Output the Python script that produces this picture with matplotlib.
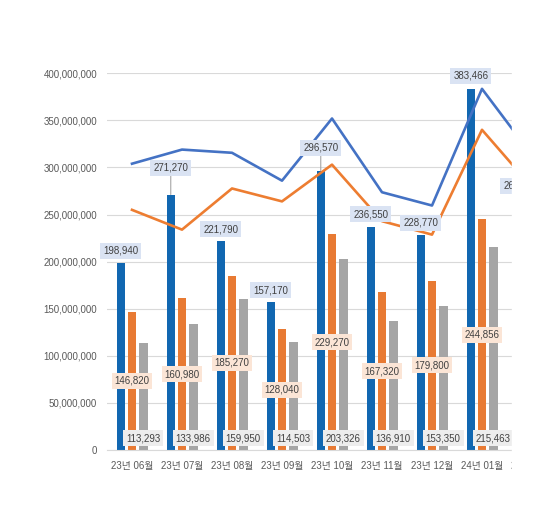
import numpy as np
import matplotlib
matplotlib.use("Agg")
from matplotlib import pyplot as plt
from matplotlib.patches import Rectangle

plt.rcParams['font.family'] = ['Liberation Sans', 'Noto Sans CJK KR']

months = ['23년 06월', '23년 07월', '23년 08월', '23년 09월', '23년 10월',
          '23년 11월', '23년 12월', '24년 01월', '24년 02월']
blue_bar = [198940, 271270, 221790, 157170, 296570, 236550, 228770, 383466, 268030]
orange_bar = [146820, 160980, 185270, 128040, 229270, 167320, 179800, 244856, 202400]
gray_bar = [113293, 133986, 159950, 114503, 203326, 136910, 153350, 215463, 170000]
blue_line = [304000, 319000, 315600, 286000, 352000, 273700, 259600, 383500, 313000]
orange_line = [255000, 234000, 277700, 264000, 303000, 243000, 228700, 340000, 279000]

c_blue = '#1167B1'
c_orange = '#E87A33'
c_gray = '#A5A5A5'
c_lblue = '#4472C4'
c_lorange = '#ED7D31'
txt = '#404040'

x = np.arange(len(months))
unit = 1000
w = 0.17
off = 0.225

fig = plt.figure(figsize=(5.52, 5.22), dpi=100)
ax = fig.add_axes([107 / 552, 72 / 522, 450 / 552, 376.7 / 522])

ax.bar(x - off, np.array(blue_bar) * unit, w, color=c_blue, zorder=2)
ax.bar(x, np.array(orange_bar) * unit, w, color=c_orange, zorder=2)
ax.bar(x + off, np.array(gray_bar) * unit, w, color=c_gray, zorder=2)
ax.plot(x, np.array(blue_line) * unit, color=c_lblue, lw=1.9, zorder=3)
ax.plot(x, np.array(orange_line) * unit, color=c_lorange, lw=1.9, zorder=3)

# label offsets above blue bars, in points
blue_off = [8.6, 19.4, 8.6, 8.6, 16.6, 9.3, 8.6, 9.3, 8.6]
for i in range(len(months)):
    kw = {}
    if blue_off[i] > 15:
        kw['arrowprops'] = dict(arrowstyle='-', color='#A6A6A6', lw=0.8,
                                shrinkA=0, shrinkB=0)
    ax.annotate(f'{blue_bar[i]:,}', xy=(x[i] - off, blue_bar[i] * unit),
                xytext=(0, blue_off[i]), textcoords='offset points',
                ha='center', va='center', fontsize=7, color=txt, zorder=5,
                bbox=dict(boxstyle='square,pad=0.3', fc='#DAE3F3', ec='none'), **kw)
    ax.annotate(f'{orange_bar[i]:,}', xy=(x[i], orange_bar[i] * unit / 2),
                ha='center', va='center', fontsize=7, color=txt, zorder=5,
                bbox=dict(boxstyle='square,pad=0.3', fc='#FBE5D6', ec='none'))
    ax.annotate(f'{gray_bar[i]:,}', xy=(x[i] + off, 0),
                xytext=(0, 8.6), textcoords='offset points',
                ha='center', va='center', fontsize=7, color=txt, zorder=5,
                bbox=dict(boxstyle='square,pad=0.3', fc='#EDEDED', ec='none'))

ax.set_xlim(-0.5, len(months) - 0.5)
ax.set_ylim(0, 400000000)
ax.set_yticks(np.arange(0, 400000001, 50000000))
ax.set_yticklabels([f'{v:,}' for v in range(0, 400000001, 50000000)])
ax.set_xticks(x)
ax.set_xticklabels(months)
ax.tick_params(axis='both', length=0, labelsize=7, colors='#595959')
ax.tick_params(axis='y', pad=7)
ax.tick_params(axis='x', pad=8)
ax.grid(axis='y', color='#D9D9D9', lw=0.8, zorder=0)
ax.set_axisbelow(True)
for s in ['top', 'right', 'left']:
    ax.spines[s].set_visible(False)
ax.spines['bottom'].set_color('#D9D9D9')

# the reference is cut off on the right
fig.add_artist(Rectangle((512 / 552, 0), 1, 1, transform=fig.transFigure,
                         color='white', zorder=100))

fig.savefig('out.png', dpi=100)
